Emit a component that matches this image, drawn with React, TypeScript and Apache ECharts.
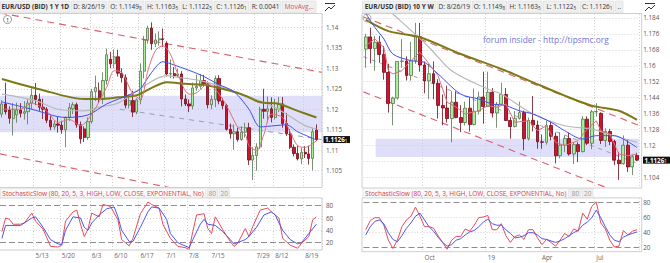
import React, { useEffect, useRef } from "react";
import * as echarts from "echarts";

// ---------------- Daily panel: EUR/USD (BID) 1 Y 1D ----------------
const dailyDates = ["4/30","5/1","5/2","5/3","5/6","5/7","5/8","5/9","5/10","5/13","5/14","5/15","5/16","5/17","5/20","5/21","5/22","5/23","5/24","5/27","5/28","5/29","5/30","5/31","6/3","6/4","6/5","6/6","6/7","6/10","6/11","6/12","6/13","6/14","6/17","6/18","6/19","6/20","6/21","6/24","6/25","6/26","6/27","6/28","7/1","7/2","7/3","7/4","7/5","7/8","7/9","7/10","7/11","7/12","7/15","7/16","7/17","7/18","7/19","7/22","7/23","7/24","7/25","7/26","7/29","7/30","7/31","8/1","8/2","8/5","8/6","8/7","8/8","8/9","8/12","8/13","8/14","8/15","8/16","8/19","8/20","8/21","8/22","8/23","8/26"];
const dailyOpen = [1.1188,1.1213,1.1198,1.1177,1.1186,1.1198,1.1190,1.1194,1.1215,1.1234,1.1224,1.1205,1.1200,1.1173,1.1157,1.1164,1.1161,1.1150,1.1180,1.1201,1.1211,1.1162,1.1152,1.1131,1.1170,1.1243,1.1245,1.1225,1.1270,1.1322,1.1311,1.1328,1.1288,1.1277,1.1210,1.1221,1.1193,1.1223,1.1293,1.1369,1.1398,1.1360,1.1369,1.1372,1.1361,1.1286,1.1287,1.1282,1.1286,1.1225,1.1213,1.1208,1.1252,1.1256,1.1270,1.1262,1.1211,1.1224,1.1275,1.1220,1.1209,1.1151,1.1140,1.1145,1.1126,1.1144,1.1155,1.1076,1.1087,1.1108,1.1200,1.1195,1.1201,1.1180,1.1200,1.1213,1.1165,1.1140,1.1107,1.1092,1.1079,1.1095,1.1091,1.1080,1.1149];
const dailyHigh = [1.1222,1.1265,1.1207,1.1215,1.1216,1.1215,1.1220,1.1225,1.1251,1.1264,1.1238,1.1226,1.1205,1.1186,1.1172,1.1181,1.1172,1.1183,1.1215,1.1217,1.1216,1.1170,1.1158,1.1180,1.1250,1.1282,1.1265,1.1290,1.1348,1.1340,1.1346,1.1345,1.1300,1.1285,1.1236,1.1245,1.1226,1.1312,1.1379,1.1404,1.1412,1.1385,1.1390,1.1397,1.1366,1.1322,1.1303,1.1299,1.1293,1.1236,1.1224,1.1265,1.1284,1.1286,1.1284,1.1268,1.1234,1.1282,1.1283,1.1228,1.1213,1.1165,1.1163,1.1155,1.1158,1.1167,1.1167,1.1108,1.1117,1.1206,1.1250,1.1231,1.1229,1.1225,1.1230,1.1230,1.1191,1.1152,1.1114,1.1112,1.1106,1.1110,1.1111,1.1153,1.1163];
const dailyLow = [1.1180,1.1187,1.1165,1.1136,1.1167,1.1180,1.1175,1.1163,1.1200,1.1210,1.1196,1.1176,1.1166,1.1149,1.1150,1.1143,1.1140,1.1107,1.1171,1.1188,1.1155,1.1116,1.1120,1.1125,1.1165,1.1220,1.1215,1.1213,1.1260,1.1300,1.1300,1.1280,1.1265,1.1202,1.1202,1.1181,1.1188,1.1212,1.1275,1.1360,1.1345,1.1352,1.1355,1.1352,1.1280,1.1276,1.1275,1.1278,1.1207,1.1208,1.1193,1.1200,1.1245,1.1250,1.1255,1.1202,1.1200,1.1205,1.1212,1.1200,1.1148,1.1128,1.1101,1.1121,1.1123,1.1131,1.1064,1.1027,1.1050,1.1103,1.1177,1.1168,1.1168,1.1175,1.1193,1.1155,1.1135,1.1103,1.1085,1.1075,1.1066,1.1081,1.1065,1.1051,1.1122];
const dailyClose = [1.1213,1.1194,1.1178,1.1200,1.1198,1.1190,1.1194,1.1215,1.1234,1.1224,1.1205,1.1200,1.1173,1.1157,1.1164,1.1161,1.1150,1.1180,1.1204,1.1211,1.1162,1.1128,1.1131,1.1170,1.1243,1.1253,1.1225,1.1270,1.1333,1.1311,1.1328,1.1288,1.1277,1.1210,1.1221,1.1193,1.1223,1.1293,1.1369,1.1398,1.1360,1.1369,1.1372,1.1370,1.1286,1.1287,1.1282,1.1286,1.1225,1.1213,1.1208,1.1252,1.1256,1.1270,1.1262,1.1211,1.1224,1.1275,1.1220,1.1209,1.1151,1.1140,1.1145,1.1126,1.1144,1.1155,1.1076,1.1087,1.1108,1.1200,1.1195,1.1201,1.1180,1.1200,1.1213,1.1165,1.1140,1.1107,1.1092,1.1079,1.1095,1.1091,1.1080,1.1145,1.1126];
const dailyTickIdx = [9, 16, 24, 30, 37, 44, 50, 56, 68, 73, 81];
const dailyTickText = ["5/13","5/20","6/3","6/10","6/17","7/1","7/8","7/15","7/29","8/12","8/19"];
// moving averages: [candle index, value]
const dailyMaOlive = [[0,1.1274],[10,1.1249],[22,1.1225],[26,1.1225],[31,1.1229],[36,1.1234],[40,1.1252],[44,1.1266],[49,1.1262],[55,1.1258],[61,1.1245],[65,1.1233],[69,1.1217],[74,1.1213],[79,1.1196],[84,1.1180]];
const dailyMaGray = [[0,1.1237],[9,1.1221],[15,1.1200],[22,1.1196],[26,1.1205],[31,1.1215],[36,1.1245],[44,1.1282],[47,1.1278],[53,1.1270],[58,1.1257],[65,1.1233],[71,1.1213],[76,1.1188],[81,1.1160],[84,1.1152]];
const dailyMaBlue = [[0,1.1218],[8,1.1200],[17,1.1180],[23,1.1186],[28,1.1213],[35,1.1239],[37,1.1250],[40,1.1290],[43,1.1316],[46,1.1308],[53,1.1284],[58,1.1260],[62,1.1243],[66,1.1200],[69,1.1157],[73,1.1160],[76,1.1162],[79,1.1145],[82,1.1133],[84,1.1125]];
const dailyMaRed = [[0,1.1200],[5,1.1200],[8,1.1215],[12,1.1195],[15,1.1168],[18,1.1175],[21,1.1160],[24,1.1188],[28,1.1254],[30,1.1294],[32,1.1290],[35,1.1237],[37,1.1225],[39,1.1294],[41,1.1343],[43,1.1355],[45,1.1335],[47,1.1286],[50,1.1237],[52,1.1240],[55,1.1262],[57,1.1249],[60,1.1209],[63,1.1156],[65,1.1139],[66,1.1111],[68,1.1099],[70,1.1139],[72,1.1188],[75,1.1180],[77,1.1144],[79,1.1111],[81,1.1107],[84,1.1123]];
const dailyChannelUpper = [[-0.5,1.1435],[85.5,1.1290]];
const dailyChannelLower = [[-0.5,1.1091],[85.5,1.0935]];
const dailyMidDashed = [[31.5,1.1200],[85.5,1.1126]];
const dailyBand = [1.1144, 1.1233];
const dailyStochK = [[0,38],[1,60],[2,58],[3,50],[5,50],[6,52],[8,68],[9,55],[11,42],[12,28],[13,14],[15,13],[16,16],[17,55],[19,70],[20,73],[21,50],[22,30],[23,42],[24,68],[26,62],[27,82],[29,79],[31,57],[32,25],[34,15],[35,27],[37,67],[39,86],[40,82],[42,76],[43,50],[45,27],[47,14],[49,12],[50,9],[51,38],[52,65],[54,67],[55,43],[56,35],[57,62],[59,41],[61,22],[62,14],[63,19],[65,43],[66,30],[67,46],[69,73],[71,76],[72,70],[74,60],[75,27],[77,16],[79,11],[80,19],[82,30],[83,57],[84,62]];
const dailyStochD = [[0,27],[1,48],[5,48],[8,60],[9,62],[11,45],[13,25],[15,18],[16,17],[17,40],[19,62],[21,60],[22,45],[23,40],[24,52],[26,65],[28,75],[30,78],[31,62],[32,40],[34,22],[35,22],[37,45],[39,70],[40,78],[42,76],[44,58],[45,35],[47,20],[50,12],[51,25],[53,50],[54,58],[55,50],[57,48],[59,38],[61,25],[62,18],[65,25],[66,30],[68,45],[70,65],[72,70],[73,65],[75,40],[77,25],[79,18],[80,20],[82,35],[84,50]];

// ---------------- Weekly panel: EUR/USD (BID) 10 Y W ----------------
const weeklyDates = ["7/2/18","7/9/18","7/16/18","7/23/18","7/30/18","8/6/18","8/13/18","8/20/18","8/27/18","9/3/18","9/10/18","9/17/18","9/24/18","10/1/18","10/8/18","10/15/18","10/22/18","10/29/18","11/5/18","11/12/18","11/19/18","11/26/18","12/3/18","12/10/18","12/17/18","12/24/18","12/31/18","1/7/19","1/14/19","1/21/19","1/28/19","2/4/19","2/11/19","2/18/19","2/25/19","3/4/19","3/11/19","3/18/19","3/25/19","4/1/19","4/8/19","4/15/19","4/22/19","4/29/19","5/6/19","5/13/19","5/20/19","5/27/19","6/3/19","6/10/19","6/17/19","6/24/19","7/1/19","7/8/19","7/15/19","7/22/19","7/29/19","8/5/19","8/12/19","8/19/19","8/26/19"];
const weeklyOpen = [1.1684,1.1745,1.1686,1.1718,1.1657,1.1567,1.1410,1.1438,1.1622,1.1624,1.1551,1.1626,1.1746,1.1604,1.1524,1.1560,1.1512,1.1401,1.1388,1.1335,1.1417,1.1340,1.1315,1.1387,1.1305,1.1372,1.1443,1.1395,1.1467,1.1363,1.1407,1.1456,1.1325,1.1295,1.1336,1.1365,1.1234,1.1326,1.1302,1.1218,1.1216,1.1300,1.1246,1.1148,1.1201,1.1235,1.1157,1.1204,1.1169,1.1332,1.1211,1.1369,1.1361,1.1225,1.1270,1.1220,1.1126,1.1108,1.1201,1.1092,1.1149];
const weeklyHigh = [1.1760,1.1791,1.1750,1.1750,1.1700,1.1610,1.1445,1.1624,1.1734,1.1647,1.1720,1.1815,1.1815,1.1622,1.1610,1.1622,1.1533,1.1456,1.1500,1.1472,1.1472,1.1402,1.1420,1.1442,1.1486,1.1470,1.1570,1.1570,1.1488,1.1418,1.1514,1.1488,1.1342,1.1372,1.1420,1.1375,1.1340,1.1448,1.1325,1.1255,1.1324,1.1324,1.1265,1.1265,1.1251,1.1264,1.1215,1.1216,1.1348,1.1346,1.1379,1.1412,1.1366,1.1286,1.1283,1.1228,1.1167,1.1250,1.1230,1.1153,1.1163];
const weeklyLow = [1.1590,1.1612,1.1575,1.1615,1.1530,1.1365,1.1301,1.1430,1.1590,1.1526,1.1525,1.1610,1.1570,1.1462,1.1432,1.1432,1.1335,1.1301,1.1315,1.1216,1.1336,1.1267,1.1300,1.1270,1.1300,1.1355,1.1309,1.1393,1.1340,1.1289,1.1400,1.1323,1.1234,1.1290,1.1330,1.1176,1.1225,1.1270,1.1183,1.1183,1.1204,1.1226,1.1110,1.1135,1.1166,1.1149,1.1107,1.1116,1.1165,1.1202,1.1181,1.1345,1.1207,1.1193,1.1202,1.1101,1.1027,1.1103,1.1066,1.1051,1.1122];
const weeklyClose = [1.1745,1.1686,1.1718,1.1657,1.1567,1.1410,1.1438,1.1622,1.1624,1.1551,1.1626,1.1746,1.1604,1.1524,1.1560,1.1512,1.1401,1.1388,1.1335,1.1417,1.1340,1.1315,1.1387,1.1305,1.1372,1.1443,1.1395,1.1467,1.1363,1.1407,1.1456,1.1325,1.1295,1.1336,1.1365,1.1234,1.1326,1.1302,1.1218,1.1216,1.1300,1.1246,1.1148,1.1201,1.1235,1.1157,1.1204,1.1169,1.1332,1.1211,1.1369,1.1370,1.1225,1.1270,1.1220,1.1126,1.1108,1.1201,1.1092,1.1143,1.1126];
const weeklyTickIdx = [13, 27, 39, 51];
const weeklyTickText = ["Oct", "19", "Apr", "Jul"];
const weeklyMaOlive = [[0,1.1830],[5,1.1774],[12,1.1743],[21,1.1659],[30,1.1584],[37,1.1517],[44,1.1450],[50,1.1400],[56,1.1374],[60,1.1328]];
const weeklyMaGray = [[3,1.1920],[6,1.1860],[14,1.1693],[19,1.1575],[27,1.1483],[30,1.1458],[37,1.1358],[44,1.1299],[50,1.1282],[56,1.1241],[60,1.1216]];
const weeklyMaBlue = [[0,1.1863],[2,1.1793],[4,1.1735],[6,1.1659],[10,1.1626],[13,1.1617],[16,1.1559],[21,1.1458],[25,1.1433],[28,1.1408],[31,1.1400],[34,1.1374],[37,1.1358],[41,1.1316],[44,1.1274],[48,1.1232],[51,1.1249],[55,1.1249],[57,1.1232],[60,1.1190]];
const weeklyMaRed = [[0,1.1701],[2,1.1735],[4,1.1693],[5,1.1575],[6,1.1559],[8,1.1575],[10,1.1626],[12,1.1668],[14,1.1610],[16,1.1550],[18,1.1417],[20,1.1392],[22,1.1358],[25,1.1374],[27,1.1400],[29,1.1392],[31,1.1408],[33,1.1316],[36,1.1324],[38,1.1274],[40,1.1299],[42,1.1216],[44,1.1199],[47,1.1224],[49,1.1282],[51,1.1324],[52,1.1274],[54,1.1257],[56,1.1157],[58,1.1148],[60,1.1157]];
const weeklyChannelUpper = [[-0.5,1.18455],[60.5,1.1300]];
const weeklyChannelLower = [[-0.5,1.1469],[60.5,1.0923]];
const weeklyMidDashed = [[-0.5,1.1646],[60.5,1.1106]];
const weeklyBand = [2.2, 1.1142, 1.1233];
const weeklyStochK = [44,56,60,60,50,30,19,30,48,57,62,74,62,48,48,46,36,27,18,30,35,35,45,42,50,60,61,63,44,44,52,36,27,35,37,31,44,44,33,24,31,27,22,30,39,35,45,42,66,58,75,81,53,45,30,21,22,43,37,42,44];
const weeklyStochD = [37,48,55,57,52,40,31,28,36,46,53,62,66,57,48,42,34,27,22,24,30,32,37,41,43,48,54,58,52,50,50,44,39,33,34,36,40,40,37,32,31,29,27,29,32,36,40,43,50,54,60,70,60,48,37,30,28,34,37,39,41];

const FF = "'Open Sans', 'Noto Sans', sans-serif";
const GRIDC = "#d2d2d2";
const UP = "#a6ef9c", UPB = "#5b7352", DN = "#d4112e", DNB = "#6e0b16";

function txt(x: number, y: number, text: string, o: any = {}) {
  return {
    type: "text", z: o.z ?? 62, x, y, silent: true,
    style: {
      text, fill: o.fill ?? "#333", fontSize: o.size ?? 6.5, fontFamily: FF,
      fontWeight: o.bold ? "bold" : "normal",
      textAlign: o.align ?? "center", align: o.align ?? "center",
      textVerticalAlign: "middle", verticalAlign: "middle",
      rich: o.rich,
    },
  };
}
function rect(x: number, y: number, w: number, h: number, style: any, z = 60) {
  return { type: "rect", z, silent: true, shape: { x, y, width: w, height: h }, style };
}
function richPrice(label: string, main: string, sub: string, color = "#333") {
  return {
    text: `{a|${label}${main}}{s|${sub}}`,
    rich: {
      a: { fontSize: 6.5, fontFamily: FF, fill: color },
      s: { fontSize: 4.6, fontFamily: FF, fill: color, padding: [2, 0, 0, 0] },
    },
  };
}
function cell(x0: number, x1: number, y0: number, y1: number, content: any, o: any = {}) {
  const out: any[] = [rect(x0, y0, x1 - x0, y1 - y0, { fill: o.bg ?? "#efefef", stroke: "#dadada", lineWidth: 0.6 }, 60)];
  if (typeof content === "string") {
    out.push(txt((x0 + x1) / 2, (y0 + y1) / 2, content, { fill: o.fill, bold: o.bold, size: o.size }));
  } else {
    out.push(txt((x0 + x1) / 2, (y0 + y1) / 2, content.text, { rich: content.rich }));
  }
  return out;
}
function priceTag(x: number, y: number, w: number) {
  return [
    rect(x - 1.5, y - 3.5, w, 7, { fill: "#111" }, 63),
    {
      type: "text", z: 64, x, y, silent: true,
      style: {
        text: "{a|1.1126}{s|1}", align: "left", textAlign: "left", verticalAlign: "middle", textVerticalAlign: "middle",
        rich: {
          a: { fontSize: 6.3, fontFamily: FF, fill: "#fff", fontWeight: "bold" },
          s: { fontSize: 4.5, fontFamily: FF, fill: "#fff", padding: [2, 0, 0, 0] },
        },
      },
    },
  ];
}

function buildGraphics(tagL: number, tagR: number) {
  const g: any[] = [];
  g.push(rect(0, 0, 670, 13.4, { fill: "#fff" }, 55));
  g.push(rect(0, 187.7, 670, 10.2, { fill: "#fff" }, 55));
  g.push(rect(-1, 13.5, 323, 174, { fill: "none", stroke: "#cfcfcf", lineWidth: 1 }, 56));
  g.push(rect(362, 13.5, 279.7, 174.5, { fill: "none", stroke: "#cfcfcf", lineWidth: 1 }, 56));
  g.push(rect(-1, 197.9, 323, 52.1, { fill: "none", stroke: "#cfcfcf", lineWidth: 1 }, 56));
  g.push(rect(362, 197.9, 279.7, 53.8, { fill: "none", stroke: "#cfcfcf", lineWidth: 1 }, 56));
  const y0 = 1, y1 = 12.4;
  g.push(...cell(0.5, 70, y0, y1, "EUR/USD (BID) 1 Y 1D", { bold: true }));
  g.push(...cell(71.5, 106.5, y0, y1, "D: 8/26/19"));
  g.push(...cell(108, 144, y0, y1, richPrice("O: ", "1.1149", "8")));
  g.push(...cell(145.5, 179.5, y0, y1, richPrice("H: ", "1.1163", "5")));
  g.push(...cell(181, 213, y0, y1, richPrice("L: ", "1.1122", "5")));
  g.push(...cell(214.5, 248.5, y0, y1, richPrice("C: ", "1.1126", "1")));
  g.push(...cell(250, 281, y0, y1, "R: 0.0041"));
  g.push(...cell(282.5, 316, y0, y1, "MovAvg...", { fill: "#d9534f" }));
  g.push(...cell(362.5, 436, y0, y1, "EUR/USD (BID) 10 Y W", { bold: true }));
  g.push(...cell(437.5, 471, y0, y1, "D: 8/26/19"));
  g.push(...cell(472.5, 506.5, y0, y1, richPrice("O: ", "1.1149", "8")));
  g.push(...cell(508, 542, y0, y1, richPrice("H: ", "1.1163", "5")));
  g.push(...cell(543.5, 579, y0, y1, richPrice("L: ", "1.1122", "5")));
  g.push(...cell(580.5, 614, y0, y1, richPrice("C: ", "1.1126", "1")));
  g.push(...cell(615.5, 623, y0, y1, ".."));
  const s0 = 188.6, s1 = 197.4;
  const stTitle = "StochasticSlow (80, 20, 5, 3, HIGH, LOW, CLOSE, EXPONENTIAL, No)";
  g.push(...cell(0.5, 205.5, s0, s1, stTitle, { fill: "#d23c4a", bg: "#fafafa" }));
  g.push(...cell(207, 217.5, s0, s1, "80", { fill: "#9a9a9a" }));
  g.push(...cell(219, 229.5, s0, s1, "20", { fill: "#9a9a9a" }));
  g.push(...cell(363, 568.5, s0, s1, stTitle, { fill: "#d23c4a", bg: "#fafafa" }));
  g.push(...cell(570, 581, s0, s1, "80", { fill: "#9a9a9a" }));
  g.push(...cell(582.5, 593, s0, s1, "20", { fill: "#9a9a9a" }));
  for (const ox of [325, 645]) {
    g.push({ type: "polyline", z: 62, silent: true, shape: { points: [[ox, 3.5], [ox + 10, 3.5]] }, style: { stroke: "#333", lineWidth: 1, fill: "none" } });
    g.push({ type: "polyline", z: 62, silent: true, shape: { points: [[ox, 11], [ox + 4, 7], [ox + 6, 9], [ox + 10, 5]] }, style: { stroke: "#333", lineWidth: 1, fill: "none" } });
  }
  g.push({ type: "circle", z: 62, silent: true, shape: { cx: 7.5, cy: 19.5, r: 4 }, style: { fill: "#fff", stroke: "#777", lineWidth: 0.8 } });
  g.push(txt(7.5, 19.7, "!", { size: 6, fill: "#555", bold: true }));
  g.push({ type: "circle", z: 62, silent: true, shape: { cx: 367, cy: 18, r: 4 }, style: { fill: "none", stroke: "#999", lineWidth: 0.8 } });
  g.push(txt(483, 39.5, "forum insider - http://tipsmc.org", { align: "left", size: 8.4, fill: "#7474d4", z: 40 }));
  g.push(...priceTag(325, tagL, 26.5));
  g.push(...priceTag(644.5, tagR, 27.5));
  return g;
}

function catAxis(gridIndex: number, data: string[], tickIdx: number[], tickText: string[], showLabels: boolean) {
  const map: Record<number, string> = {};
  tickIdx.forEach((i, k) => (map[i] = tickText[k]));
  const pick = (i: number) => map[i] !== undefined;
  return {
    type: "category", gridIndex, data, boundaryGap: true,
    axisLine: { show: false }, axisTick: { show: false },
    axisLabel: {
      show: showLabels, interval: pick, formatter: (_v: string, i: number) => map[i] ?? "",
      align: "left", margin: 2.5, color: "#666", fontSize: 6.3, fontFamily: FF,
    },
    splitLine: { show: true, interval: pick, lineStyle: { color: GRIDC, type: [1, 2], width: 1 } },
  };
}
function valAxis(gridIndex: number, min: number, max: number, step: number, nTicks: number, colorsIn?: string[], hideNear?: number) {
  const colors = colorsIn ?? ["transparent", ...Array(nTicks).fill(GRIDC), "transparent"];
  return {
    type: "value", gridIndex, position: "right", min, max, minInterval: step, maxInterval: step, splitNumber: 5,
    scale: true,
    axisLine: { show: false }, axisTick: { show: false },
    axisLabel: {
      margin: 4, color: "#555", fontSize: 6.3, fontFamily: FF, showMinLabel: false, showMaxLabel: false,
      formatter: (v: number) => (hideNear !== undefined && Math.abs(v - hideNear) < step * 0.45 ? "" : String(+v.toFixed(4))),
    },
    splitLine: { show: true, lineStyle: { color: colors, type: [1, 2], width: 1 } },
  };
}
function hiddenX(gridIndex: number, max: number) {
  return { type: "value", gridIndex, min: -0.5, max, show: false, splitLine: { show: false } };
}
function ln(xi: number, yi: number, data: any, color: string, width: number, extra: any = {}) {
  return { type: "line", xAxisIndex: xi, yAxisIndex: yi, data, symbol: "none", silent: true, lineStyle: { color, width }, z: extra.z ?? 3, smooth: extra.smooth ?? false };
}
function dashed(xi: number, yi: number, data: any, color: string, width: number, dash: number[]) {
  return { type: "line", xAxisIndex: xi, yAxisIndex: yi, data, symbol: "none", silent: true, z: 3, lineStyle: { color, width, type: dash } };
}
function stochMarks() {
  return { silent: true, symbol: "none", label: { show: false }, lineStyle: { color: "#8e8e8e", type: [6, 3], width: 1 }, data: [{ yAxis: 80 }, { yAxis: 20 }] };
}

function buildOption() {
  const dCats = [...dailyDates, ""];
  const dCandles = dailyDates.map((_, i) => [dailyOpen[i], dailyClose[i], dailyLow[i], dailyHigh[i]]);
  const wCandles = weeklyDates.map((_, i) => [weeklyOpen[i], weeklyClose[i], weeklyLow[i], weeklyHigh[i]]);
  const stochColors = ["transparent", "transparent", GRIDC, GRIDC, "transparent", "transparent"];
  const lastW = weeklyClose[weeklyClose.length - 1];
  return {
    animation: false,
    backgroundColor: "#fff",
    grid: [
      { left: 0, top: 14, width: 322, height: 173.5, containLabel: false, outerBoundsMode: "none" },
      { left: 0, top: 198, width: 322, height: 52, containLabel: false, outerBoundsMode: "none" },
      { left: 363.5, top: 14, width: 275.7, height: 174, containLabel: false, outerBoundsMode: "none" },
      { left: 363.5, top: 198, width: 275.7, height: 53.7, containLabel: false, outerBoundsMode: "none" },
    ],
    xAxis: [
      catAxis(0, dCats, dailyTickIdx, dailyTickText, false),
      catAxis(1, dCats, dailyTickIdx, dailyTickText, true),
      hiddenX(0, 85.5),
      catAxis(2, weeklyDates, weeklyTickIdx, weeklyTickText, false),
      catAxis(3, weeklyDates, weeklyTickIdx, weeklyTickText, true),
      hiddenX(2, 60.5),
    ],
    yAxis: [
      valAxis(0, 1.100898, 1.143246, 0.005, 8),
      valAxis(1, 8.17, 92.49, 20, 4, stochColors),
      valAxis(2, 1.098616, 1.186009, 0.008, 11, undefined, lastW),
      valAxis(3, 14.67, 86.27, 20, 4, stochColors),
    ],
    series: [
      {
        type: "line", xAxisIndex: 2, yAxisIndex: 0, data: [], symbol: "none", silent: true, z: 1,
        markArea: { silent: true, itemStyle: { color: "rgba(196,196,246,0.55)" }, data: [[{ xAxis: -0.5, yAxis: dailyBand[0] }, { xAxis: 85.5, yAxis: dailyBand[1] }]] },
      },
      dashed(2, 0, dailyChannelUpper, "#d9606a", 1.1, [7, 5]),
      dashed(2, 0, dailyChannelLower, "#d9606a", 1.1, [7, 5]),
      dashed(2, 0, dailyMidDashed, "#9c9cb0", 1, [5, 5]),
      {
        type: "candlestick", xAxisIndex: 0, yAxisIndex: 0, data: dCandles, barWidth: "72%", z: 4, silent: true,
        itemStyle: { color: UP, color0: DN, borderColor: UPB, borderColor0: DNB, borderWidth: 0.8 },
      },
      ln(0, 0, dailyMaGray, "#b8b8b8", 1.2, { z: 5, smooth: 0.3 }),
      ln(0, 0, dailyMaOlive, "#7d7a16", 2, { z: 5, smooth: 0.3 }),
      ln(0, 0, dailyMaBlue, "#3f4ff0", 1, { z: 6, smooth: 0.3 }),
      ln(0, 0, dailyMaRed, "#e0707a", 1, { z: 6, smooth: 0.3 }),
      { ...ln(1, 1, dailyStochK, "#ea4a5c", 1, { z: 6 }), markLine: stochMarks() },
      ln(1, 1, dailyStochD, "#4b57ee", 1, { z: 6 }),
      {
        type: "line", xAxisIndex: 5, yAxisIndex: 2, data: [], symbol: "none", silent: true, z: 1,
        markArea: { silent: true, itemStyle: { color: "rgba(196,196,246,0.55)" }, data: [[{ xAxis: weeklyBand[0], yAxis: weeklyBand[1] }, { xAxis: 60.5, yAxis: weeklyBand[2] }]] },
      },
      dashed(5, 2, weeklyChannelUpper, "#d9606a", 1.1, [7, 5]),
      dashed(5, 2, weeklyChannelLower, "#d9606a", 1.1, [7, 5]),
      dashed(5, 2, weeklyMidDashed, "#9c9cb0", 1, [4, 5]),
      {
        type: "candlestick", xAxisIndex: 3, yAxisIndex: 2, data: wCandles, barWidth: "74%", z: 4, silent: true,
        itemStyle: { color: UP, color0: DN, borderColor: UPB, borderColor0: DNB, borderWidth: 0.8 },
      },
      ln(3, 2, weeklyMaGray, "#b8b8b8", 1.2, { z: 5, smooth: 0.3 }),
      ln(3, 2, weeklyMaOlive, "#7d7a16", 2, { z: 5, smooth: 0.3 }),
      ln(3, 2, weeklyMaBlue, "#3f4ff0", 1, { z: 6, smooth: 0.3 }),
      ln(3, 2, weeklyMaRed, "#e0707a", 1, { z: 6 }),
      { ...ln(4, 3, weeklyStochK, "#ea4a5c", 1, { z: 6 }), markLine: stochMarks() },
      ln(4, 3, weeklyStochD, "#4b57ee", 1, { z: 6 }),
    ],
    graphic: { elements: buildGraphics(139.6, 160.2) },
  };
}

export default function App() {
  const ref = useRef<HTMLDivElement>(null);
  useEffect(() => {
    if (!ref.current) return;
    const chart = echarts.init(ref.current, undefined, { renderer: "svg" });
    chart.setOption(buildOption() as any);
    try {
      const yl = chart.convertToPixel({ yAxisIndex: 0 } as any, dailyClose[dailyClose.length - 1]) as any;
      const yr = chart.convertToPixel({ yAxisIndex: 2 } as any, weeklyClose[weeklyClose.length - 1]) as any;
      if (typeof yl === "number" && typeof yr === "number" && isFinite(yl) && isFinite(yr)) {
        chart.setOption({ graphic: { elements: buildGraphics(yl, yr) } });
      }
    } catch (e) {
      /* keep defaults */
    }
    return () => chart.dispose();
  }, []);
  return <div ref={ref} style={{ position: "fixed", left: 0, top: 0, width: 670, height: 263, background: "#fff" }} />;
}
